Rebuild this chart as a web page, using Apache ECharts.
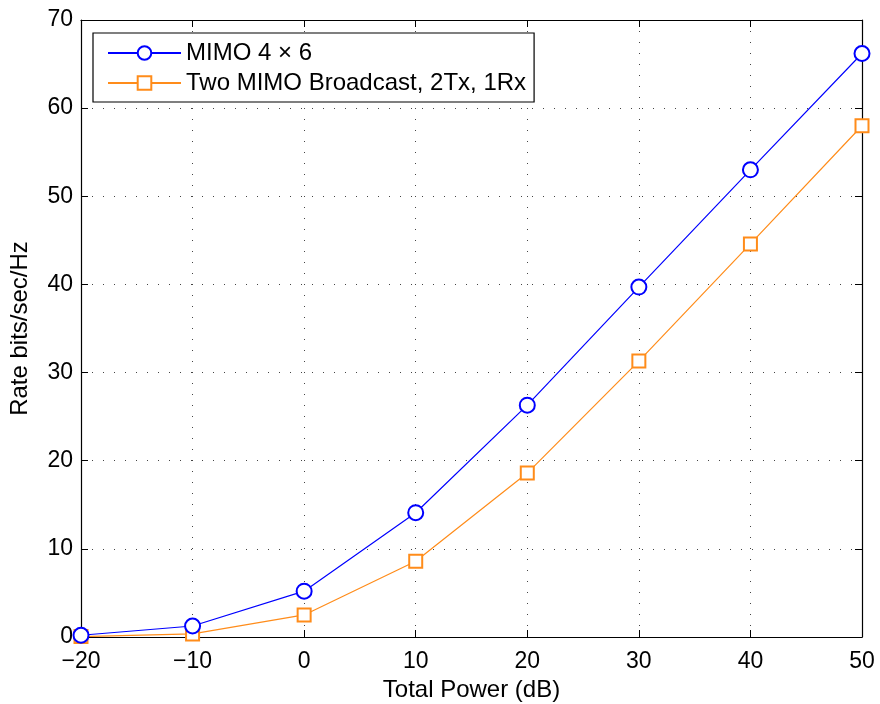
<!DOCTYPE html>
<html>
<head>
<meta charset="utf-8">
<script src="https://cdn.jsdelivr.net/npm/echarts@6/dist/echarts.min.js"></script>
<style>
	html, body { margin: 0; padding: 0; background: #fff; }
	#chart { width: 880px; height: 704px; }
</style>
</head>
<body>
<div id="chart"></div>
<script>
// 数据
const powerDb = [-20, -10, 0, 10, 20, 30, 40, 50];
const mimoRate = [0.2, 1.25, 5.2, 14.1, 26.3, 39.7, 53.0, 66.2];
const broadcastRate = [0.05, 0.35, 2.5, 8.6, 18.6, 31.3, 44.6, 58.0];
const seriesNames = ['MIMO 4 \u00d7 6', 'Two MIMO Broadcast, 2Tx, 1Rx'];

const FONT = 'Liberation Sans, Arial, Helvetica, sans-serif';

function pairs(xs, ys) {
	return xs.map(function (x, i) { return [x, ys[i]]; });
}
function minusFmt(v) {
	return String(v).replace('-', '\u2212');
}

// 坐标轴公共配置
const tickStyle = { show: true, inside: true, length: 7, lineStyle: { color: '#000', width: 1 } };
const gridLine = { show: true, lineStyle: { color: '#444', width: 1, type: [1, 10] } };
const axisLineStyle = { show: true, onZero: false, lineStyle: { color: '#000', width: 1.2 } };

const chart = echarts.init(document.getElementById('chart'), null, { renderer: 'canvas' });

const option = {
	backgroundColor: '#fff',
	animation: false,
	textStyle: { fontFamily: FONT },
	grid: { left: 81, right: 18, top: 20, bottom: 67, containLabel: false, outerBoundsMode: 'none' },
	legend: {
		data: seriesNames,
		orient: 'vertical',
		align: 'left',
		left: 93,
		top: 33,
		padding: [8, 8, 7, 14],
		itemWidth: 73,
		itemHeight: 17,
		itemGap: 6,
		backgroundColor: '#fff',
		borderColor: '#000',
		borderWidth: 1.2,
		textStyle: { fontSize: 24, lineHeight: 24, color: '#000', fontFamily: FONT }
	},
	xAxis: [
		{
			type: 'value', min: -20, max: 50, interval: 10,
			name: 'Total Power (dB)', nameLocation: 'middle', nameGap: 35,
			nameTextStyle: { fontSize: 24, color: '#000', fontFamily: FONT },
			axisLine: axisLineStyle,
			axisTick: tickStyle,
			axisLabel: { fontSize: 23, color: '#000', margin: 13, formatter: minusFmt, fontFamily: FONT },
			splitLine: gridLine
		},
		{
			type: 'value', position: 'top', min: -20, max: 50, interval: 10,
			axisLine: axisLineStyle, axisTick: tickStyle,
			axisLabel: { show: false }, splitLine: { show: false }
		}
	],
	yAxis: [
		{
			type: 'value', min: 0, max: 70, interval: 10,
			name: 'Rate bits/sec/Hz', nameLocation: 'middle', nameGap: 49,
			nameTextStyle: { fontSize: 24, color: '#000', fontFamily: FONT },
			axisLine: axisLineStyle,
			axisTick: tickStyle,
			axisLabel: { fontSize: 23, color: '#000', margin: 8, fontFamily: FONT },
			splitLine: gridLine
		},
		{
			type: 'value', position: 'right', min: 0, max: 70, interval: 10,
			axisLine: axisLineStyle, axisTick: tickStyle,
			axisLabel: { show: false }, splitLine: { show: false }
		}
	],
	series: [
		{
			name: seriesNames[0],
			type: 'line',
			data: pairs(powerDb, mimoRate),
			symbol: 'emptyCircle',
			symbolSize: 15,
			color: '#0000ff',
			lineStyle: { color: '#0000ff', width: 1.2 },
			itemStyle: { color: '#0000ff', borderColor: '#0000ff', borderWidth: 1.2 },
			z: 3
		},
		{
			name: seriesNames[1],
			type: 'line',
			data: pairs(powerDb, broadcastRate),
			symbol: 'emptyRect',
			symbolSize: 13,
			color: '#ff8c1a',
			lineStyle: { color: '#ff8c1a', width: 1.2 },
			itemStyle: { color: '#ff8c1a', borderColor: '#ff8c1a', borderWidth: 1.2 },
			z: 2
		}
	]
};

chart.setOption(option);
window.onresize = chart.resize;
</script>
</body>
</html>
